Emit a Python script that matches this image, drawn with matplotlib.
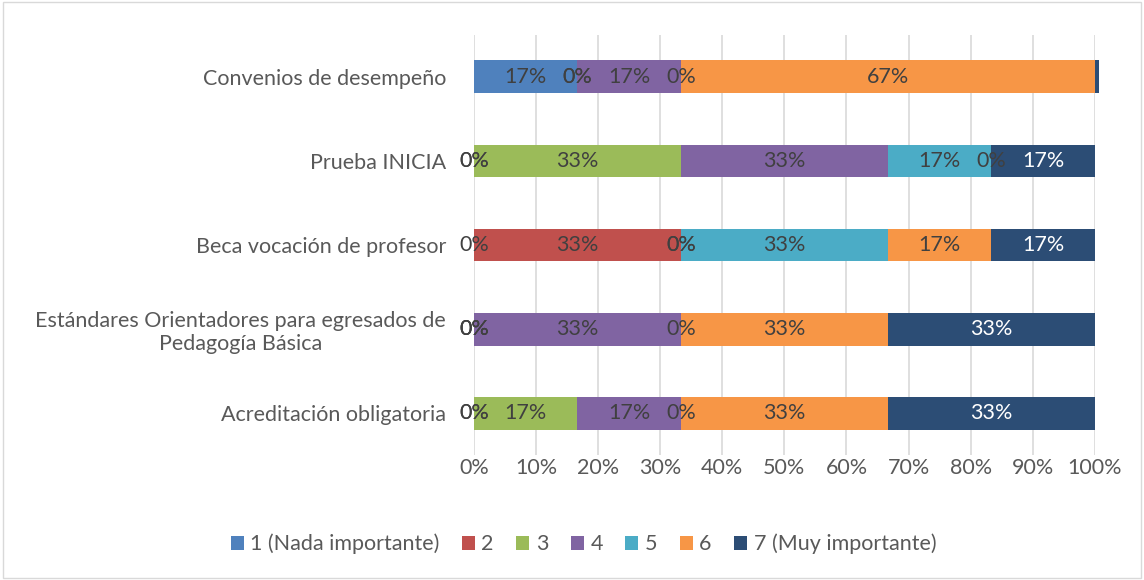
import numpy as np
import matplotlib.pyplot as plt
from matplotlib.patches import Rectangle

plt.rcParams['font.family'] = ['Lato', 'DejaVu Sans']

categories = ['Convenios de desempeño', 'Prueba INICIA', 'Beca vocación de profesor',
              'Estándares Orientadores para egresados de\nPedagogía Básica',
              'Acreditación obligatoria']
series = ['1 (Nada importante)', '2', '3', '4', '5', '6', '7 (Muy importante)']
colors = ['#4F81BD', '#C0504D', '#9BBB59', '#8064A2', '#4BACC6', '#F79646', '#2C4D75']

# share per category, one list per answer level
s1 = [16.67, 0, 0, 0, 0]
s2 = [0, 0, 33.33, 0, 0]
s3 = [0, 33.33, 0, 0, 16.67]
s4 = [16.67, 33.33, 0, 33.33, 16.67]
s5 = [0, 16.67, 33.33, 0, 0]
s6 = [66.67, 0, 16.67, 33.33, 33.33]
s7 = [0.6, 16.67, 16.67, 33.33, 33.33]
values = [s1, s2, s3, s4, s5, s6, s7]
# labels that Excel did not show
hidden = {(6, 0)}

fig, ax = plt.subplots(figsize=(11.44, 5.8), dpi=100)
fig.subplots_adjust(left=0.4143, right=0.957, top=0.94, bottom=0.215)

y = np.arange(len(categories))
left = np.zeros(len(categories))
for i, vals in enumerate(values):
    vals = np.array(vals)
    ax.barh(y, vals, left=left, height=0.39, color=colors[i], label=series[i],
            zorder=2, clip_on=False)
    txt_color = 'white' if i == 6 else '#404040'
    for j, v in enumerate(vals):
        if (i, j) in hidden:
            continue
        ax.text(left[j] + v / 2, y[j], '%d%%' % round(v), ha='center', va='center',
                fontsize=15.5, color=txt_color, zorder=3)
    left += vals

ax.set_xlim(0, 100)
ax.set_ylim(len(categories) - 0.5, -0.5)
ax.set_yticks(y)
ax.set_yticklabels(categories, fontsize=15.5, color='#595959', multialignment='center')
ax.set_xticks(np.arange(0, 101, 10))
ax.set_xticklabels(['%d%%' % t for t in range(0, 101, 10)], fontsize=15.5, color='#595959')
ax.tick_params(axis='y', length=0, pad=20)
ax.tick_params(axis='x', length=0, pad=2)
ax.xaxis.grid(True, color='#D9D9D9', linewidth=1.2, zorder=0)
for s in ax.spines.values():
    s.set_visible(False)

fig.legend(*ax.get_legend_handles_labels(), loc='center', bbox_to_anchor=(0.51, 0.062),
           ncol=7, frameon=False, fontsize=15.5, handlelength=0.6, handleheight=0.6,
           handletextpad=0.3, columnspacing=1.05, labelcolor='#595959')

fig.patches.append(Rectangle((0.003, 0.003), 0.994, 0.994, transform=fig.transFigure,
                             fill=False, edgecolor='#D9D9D9', linewidth=1))

plt.savefig('out.png', dpi=100)
